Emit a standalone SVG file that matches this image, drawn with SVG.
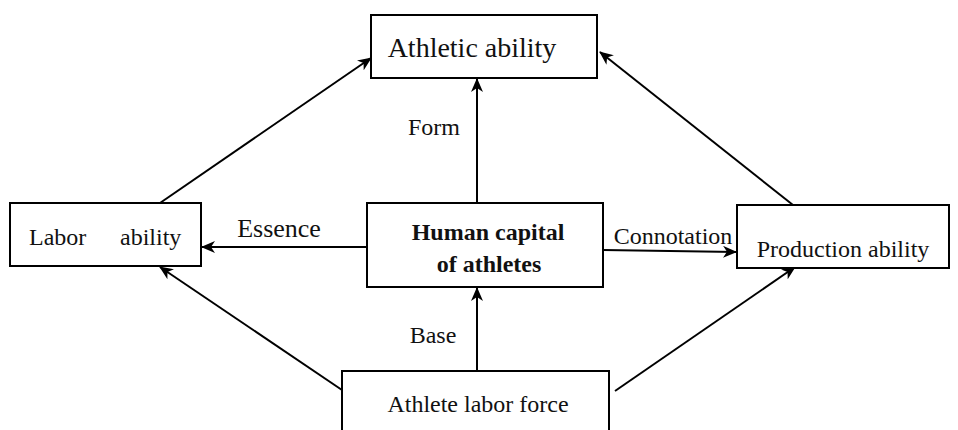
<svg xmlns="http://www.w3.org/2000/svg" width="958" height="430" viewBox="0 0 958 430">
<defs>
<marker id="arr" viewBox="0 0 14 12" refX="13" refY="6" markerWidth="14" markerHeight="12" markerUnits="userSpaceOnUse" orient="auto">
<path d="M0,0 L14,6 L0,12 L4,6 Z" fill="#000"/>
</marker>
</defs>
<style>
.box{fill:#fff;stroke:#000;stroke-width:2}
.t{font-family:"Liberation Serif","Times New Roman",serif;font-size:24px;fill:#111}
.b{font-weight:bold}
.c{stroke:#000;stroke-width:2;fill:none;marker-end:url(#arr)}
</style>
<rect width="958" height="430" fill="#fff"/>
<g id="connectors">
<line class="c" x1="477" y1="203" x2="477" y2="79"/>
<line class="c" x1="477" y1="371" x2="477" y2="288"/>
<line class="c" x1="367" y1="247" x2="202" y2="247"/>
<line class="c" x1="603" y1="250" x2="736" y2="252"/>
<line class="c" x1="160" y1="203" x2="371" y2="58"/>
<line class="c" x1="793" y1="205" x2="600" y2="52"/>
<line class="c" x1="342" y1="390" x2="160" y2="267"/>
<line class="c" x1="615" y1="391" x2="795" y2="267"/>
</g>
<g id="athletic-ability">
<rect class="box" x="371" y="15" width="226" height="63"/>
<text class="t" x="472" y="57" text-anchor="middle" style="font-size:28px">Athletic ability</text>
</g>
<g id="labor-ability">
<rect class="box" x="10" y="203" width="191" height="63"/>
<text class="t" x="29" y="245">Labor</text>
<text class="t" x="120" y="245">ability</text>
</g>
<g id="human-capital">
<rect class="box" x="367" y="203" width="236" height="84"/>
<text class="t b" x="488" y="240" text-anchor="middle">Human capital</text>
<text class="t b" x="489" y="272" text-anchor="middle">of athletes</text>
</g>
<g id="production-ability">
<rect class="box" x="737" y="205" width="212" height="63"/>
<text class="t" x="843" y="257" text-anchor="middle">Production ability</text>
</g>
<g id="athlete-labor-force">
<rect class="box" x="342" y="371" width="267" height="70"/>
<text class="t" x="478" y="412" text-anchor="middle">Athlete labor force</text>
</g>
<g id="labels">
<text class="t" x="279" y="237" text-anchor="middle" style="font-size:26px">Essence</text>
<text class="t" x="673" y="244" text-anchor="middle">Connotation</text>
<text class="t" x="434" y="135" text-anchor="middle">Form</text>
<text class="t" x="433" y="343" text-anchor="middle">Base</text>
</g>
</svg>
